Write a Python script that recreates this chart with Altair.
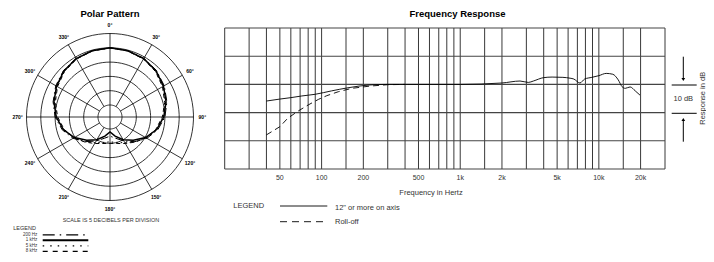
import altair as alt
import pandas as pd

FONT = "Liberation Sans"

# ---------------- Frequency response data ----------------
grid_freqs = [20, 30, 40, 50, 60, 70, 80, 90, 100, 150, 200, 300, 400, 500, 600, 700, 800, 900,
              1000, 1500, 2000, 3000, 4000, 5000, 6000, 7000, 8000, 9000, 10000, 15000, 20000, 30000]
grid_dbs = [20, 10, 0, -10, -20, -30]
tick_freqs = [50, 100, 200, 500, 1000, 2000, 5000, 10000, 20000]
tick_labels = ["50", "100", "200", "500", "1k", "2k", "5k", "10k", "20k"]

onaxis_freq = [40, 50, 60, 72, 90, 118, 155, 223, 300, 500, 1000, 2000, 2700, 3100, 3370, 4000,
               4600, 5500, 6200, 6600, 7300, 7900, 8900, 10000, 11300, 12600, 13800, 14700, 15500,
               16800, 18300, 19800]
onaxis_db = [-5.9, -5.2, -4.7, -4.1, -3.5, -2.3, -1.2, -0.2, 0.0, 0.0, 0.0, 0.5, 1.2, 0.7, 1.2, 2.4,
             2.6, 2.5, 2.2, 1.9, 0.5, 1.9, 2.5, 3.1, 3.9, 3.6, 1.6, -0.8, -1.4, -0.9, -2.3, -3.8]

rolloff_freq = [40, 50, 57, 68, 80, 95, 109, 132, 165, 223, 300, 400]
rolloff_db = [-17.9, -15.0, -12.0, -9.4, -7.3, -5.3, -4.0, -2.6, -1.4, -0.6, -0.1, 0.0]

# ---------------- Polar pattern data ----------------
polar_angles = [0, 15, 30, 45, 60, 75, 90, 105, 120, 135, 150, 165, 180]
polar_200hz = [0, -0.2, -0.5, -1.2, -2.3, -3.6, -5.0, -6.9, -9.3, -12.0, -14.5, -16.5, -17.5]
polar_1khz = [0, -0.2, -0.6, -1.4, -2.6, -3.9, -5.4, -7.3, -9.8, -12.7, -15.0, -17.3, -19.0]
polar_5khz = [0, -0.2, -0.7, -1.6, -2.8, -4.1, -5.6, -7.4, -9.6, -12.0, -13.8, -15.0, -15.5]
polar_8khz = [0, -0.3, -0.8, -1.7, -3.0, -4.4, -5.9, -7.6, -9.6, -11.8, -13.5, -14.6, -15.0]

ring_dbs = [5, 0, -5, -10, -15, -20]
ring_angles = list(range(0, 361, 4))
spoke_angles = [0, 30, 60, 90, 120, 150, 180, 210, 240, 270, 300, 330]
spoke_labels = ["0°", "30°", "60°", "90°", "120°", "150°", "180°", "210°", "240°", "270°", "300°", "330°"]

OFFSET = 24.2   # dB offset so that the centre of the polar plot is radius 0
RMAX = 29.2

xs_p = alt.Scale(domain=[-RMAX, RMAX], range=[18.5, 185.5], nice=False, zero=False)
ys_p = alt.Scale(domain=[-RMAX, RMAX], range=[192.5, 25.5], nice=False, zero=False)
xs_f = alt.Scale(type="log", domain=[20, 30000], range=[216.7, 657], nice=False)
ys_f = alt.Scale(domain=[-30, 20], range=[161, 20], nice=False, zero=False)


def full_circle(vals):
    ang = polar_angles + [360 - a for a in reversed(polar_angles[:-1])]
    v = vals + list(reversed(vals[:-1]))
    return pd.DataFrame({"angle": ang, "db": v})


def polar_xy(chart, dbfield="db", afield="angle", px="px", py="py"):
    return chart.transform_calculate(
        **{px: f"(datum.{dbfield} + {OFFSET}) * sin(datum.{afield} * PI / 180)",
           py: f"(datum.{dbfield} + {OFFSET}) * cos(datum.{afield} * PI / 180)"})


def txt(s, x, y, size, **kw):
    return alt.Chart(pd.DataFrame({"t": [s]})).mark_text(font=FONT, fontSize=size, **kw).encode(
        x=alt.value(x), y=alt.value(y), text="t:N")


def seg(x1, x2, y1, y2, width=1.0, dash=None, color="black"):
    props = dict(color=color, strokeWidth=width)
    if dash:
        props["strokeDash"] = dash
    return alt.Chart(pd.DataFrame({"a": [0]})).mark_rule(**props).encode(
        x=alt.value(x1), x2=alt.value(x2), y=alt.value(y1), y2=alt.value(y2))


layers = []

# ---------- polar grid ----------
rings = pd.DataFrame([{"ring": r, "angle": a} for r in ring_dbs for a in ring_angles])
layers.append(
    polar_xy(alt.Chart(rings), dbfield="ring").mark_line(color="black", strokeWidth=0.8).encode(
        x=alt.X("px:Q", scale=xs_p, axis=None), y=alt.Y("py:Q", scale=ys_p, axis=None),
        detail="ring:N", order="angle:Q"))

spokes = pd.DataFrame({"angle": spoke_angles,
                       "start": [-OFFSET if a % 90 == 0 else -20 for a in spoke_angles],
                       "end": [5] * len(spoke_angles)})
layers.append(
    alt.Chart(spokes).transform_calculate(
        x1=f"(datum.start + {OFFSET}) * sin(datum.angle * PI / 180)",
        y1=f"(datum.start + {OFFSET}) * cos(datum.angle * PI / 180)",
        x2=f"(datum.end + {OFFSET}) * sin(datum.angle * PI / 180)",
        y2=f"(datum.end + {OFFSET}) * cos(datum.angle * PI / 180)",
    ).mark_rule(color="black", strokeWidth=0.8).encode(
        x=alt.X("x1:Q", scale=xs_p, axis=None), y=alt.Y("y1:Q", scale=ys_p, axis=None),
        x2="x2:Q", y2="y2:Q"))

plabels = pd.DataFrame({"angle": spoke_angles, "label": spoke_labels, "r": [8.1] * 12})
layers.append(
    polar_xy(alt.Chart(plabels), dbfield="r").mark_text(
        font=FONT, fontSize=5, fontWeight="bold", color="black").encode(
        x=alt.X("px:Q", scale=xs_p, axis=None), y=alt.Y("py:Q", scale=ys_p, axis=None),
        text="label:N"))

# ---------- polar curves ----------
polar_series = [(polar_200hz, [8, 3, 1.5, 3], 1.0), (polar_5khz, [1.5, 3], 1.0),
                (polar_8khz, [4, 3], 1.0), (polar_1khz, None, 1.5)]
for vals, dash, w in polar_series:
    props = dict(color="black", strokeWidth=w)
    if dash:
        props["strokeDash"] = dash
    layers.append(
        polar_xy(alt.Chart(full_circle(vals))).mark_line(**props).encode(
            x=alt.X("px:Q", scale=xs_p, axis=None), y=alt.Y("py:Q", scale=ys_p, axis=None),
            order="angle:Q"))

# ---------- polar texts & legend ----------
layers.append(txt("Polar Pattern", 102, 6, 9.5, fontWeight="bold", align="center", baseline="middle"))
layers.append(txt("SCALE IS 5 DECIBELS PER DIVISION", 103, 211.5, 5.5, color="#333",
                  align="center", baseline="middle"))
layers.append(txt("LEGEND", 5.3, 219.5, 5.5, color="#333", align="left", baseline="middle"))
legend_rows = [("200 Hz", 226.8, [12, 5, 1.5, 5], 1.2), ("1 kHz", 232.3, None, 2.0),
               ("5 kHz", 237.8, [1.5, 6], 1.2), ("8 kHz", 243.3, [5, 5], 1.2)]
for name, yy, dash, w in legend_rows:
    layers.append(txt(name, 29.3, yy, 4.5, color="#333", align="right", baseline="middle"))
    layers.append(seg(34.7, 80.3, yy, yy, width=w, dash=dash))

# ---------- frequency response grid ----------
layers.append(
    alt.Chart(pd.DataFrame({"freq": grid_freqs})).mark_rule(color="#222", strokeWidth=0.9).encode(
        x=alt.X("freq:Q", scale=xs_f, axis=None), y=alt.value(20), y2=alt.value(161)))
layers.append(
    alt.Chart(pd.DataFrame({"db": grid_dbs})).mark_rule(color="#444", strokeWidth=1.1).encode(
        y=alt.Y("db:Q", scale=ys_f, axis=None), x=alt.value(216.7), x2=alt.value(657)))

# ---------- frequency response curves ----------
layers.append(
    alt.Chart(pd.DataFrame({"freq": rolloff_freq, "db": rolloff_db})).mark_line(
        color="black", strokeWidth=0.9, strokeDash=[6, 4]).encode(
        x=alt.X("freq:Q", scale=xs_f, axis=None), y=alt.Y("db:Q", scale=ys_f, axis=None)))
layers.append(
    alt.Chart(pd.DataFrame({"freq": onaxis_freq, "db": onaxis_db})).mark_line(
        color="black", strokeWidth=0.9, interpolate="monotone").encode(
        x=alt.X("freq:Q", scale=xs_f, axis=None), y=alt.Y("db:Q", scale=ys_f, axis=None)))

# ---------- frequency axis labels ----------
layers.append(
    alt.Chart(pd.DataFrame({"freq": tick_freqs, "label": tick_labels})).mark_text(
        font=FONT, fontSize=7, color="#333", baseline="middle").encode(
        x=alt.X("freq:Q", scale=xs_f, axis=None), y=alt.value(169.7), text="label:N"))
layers.append(txt("Frequency in Hertz", 423, 184.5, 7.5, color="#333", align="center", baseline="middle"))
layers.append(txt("Frequency Response", 449.5, 5.5, 9.5, fontWeight="bold", align="center", baseline="middle"))

# ---------- right side annotation ----------
layers.append(seg(663.7, 688.7, 77, 77))
layers.append(seg(663.7, 688.7, 105.3, 105.3))
layers.append(seg(675.3, 675.3, 48.7, 71))
layers.append(seg(675.3, 675.3, 112, 133.7))
layers.append(alt.Chart(pd.DataFrame({"a": [0]})).mark_point(
    shape="triangle-down", filled=True, size=14, color="black", opacity=1).encode(
    x=alt.value(675.3), y=alt.value(71.5)))
layers.append(alt.Chart(pd.DataFrame({"a": [0]})).mark_point(
    shape="triangle-up", filled=True, size=14, color="black", opacity=1).encode(
    x=alt.value(675.3), y=alt.value(111.5)))
layers.append(txt("10 dB", 675.3, 91, 7.5, color="#333", align="center", baseline="middle"))
layers.append(txt("Response in dB", 695.3, 90.3, 7.5, color="#333", angle=270,
                  align="center", baseline="middle"))

# ---------- frequency legend ----------
layers.append(txt("LEGEND", 225.3, 198, 7.5, color="#333", align="left", baseline="middle"))
layers.append(seg(272, 319.3, 198, 198, width=0.9))
layers.append(txt("12\" or more on axis", 327, 199.5, 7.5, color="#333", align="left", baseline="middle"))
layers.append(seg(272, 316, 213.7, 213.7, width=0.9, dash=[7, 5]))
layers.append(txt("Roll-off", 327, 213.7, 7.5, color="#333", align="left", baseline="middle"))

chart = alt.layer(*layers).resolve_scale(x="independent", y="independent").properties(
    width=698, height=246, padding=0, autosize="none", background="white"
).configure_view(stroke=None)

chart.save("out.html", embed_options={"renderer": "svg", "actions": False})
